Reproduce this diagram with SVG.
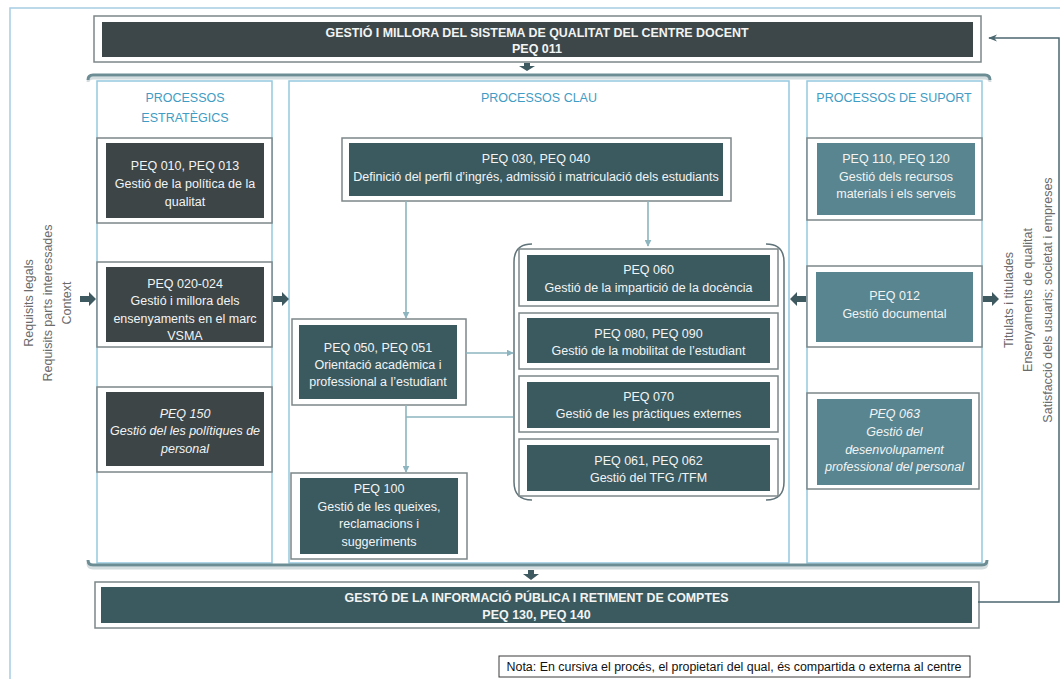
<svg xmlns="http://www.w3.org/2000/svg" width="1060" height="679" viewBox="0 0 1060 679">
<defs>
<style>
text{font-family:"Liberation Sans",Arial,sans-serif;font-size:12.5px;text-anchor:middle}
.w{fill:#f2f4f4}
.b{font-weight:bold}
.i{font-style:italic}
.t{fill:#3f9cc4;font-size:12.5px}
.side{fill:#6b6b6b;font-size:12.5px}
.outer{fill:#fff;stroke:#7c8789;stroke-width:1.5}
.col{fill:#fff;stroke:#95c9e0;stroke-width:1.5}
.st{fill:#3d4547}
.key{fill:#3b5a60}
.sup{fill:#588590}
.conn{fill:none;stroke:#8db5bf;stroke-width:1.6}
.blk{fill:#3e5960}
.brk{fill:none;stroke:#6d8d95;stroke-width:3}
.brks{fill:none;stroke:#d3dcde;stroke-width:3}
.par{fill:none;stroke:#5f7378;stroke-width:1.5}
</style>
<marker id="ah" viewBox="0 0 10 10" refX="9" refY="5" markerWidth="7" markerHeight="7" orient="auto" markerUnits="userSpaceOnUse">
<path d="M0,0 L10,5 L0,10 z" fill="#8db5bf"/>
</marker>
<marker id="ahd" viewBox="0 0 10 10" refX="9" refY="5" markerWidth="9" markerHeight="9" orient="auto" markerUnits="userSpaceOnUse">
<path d="M0,1 L10,5 L0,9 L3,5 z" fill="#4b6870"/>
</marker>
</defs>
<rect width="1060" height="679" fill="#fff"/>
<path d="M10,679 V8 H1060" fill="none" stroke="#a6cde3" stroke-width="1.5"/>

<!-- columns -->
<g id="col-estrategics">
<rect class="col" x="97" y="81" width="175" height="482"/>
<text class="t" x="185" y="101.5">PROCESSOS</text>
<text class="t" x="185" y="121.5">ESTRATÈGICS</text>
</g>
<g id="col-clau">
<rect class="col" x="289" y="81" width="500" height="482"/>
<text class="t" x="539" y="101.5">PROCESSOS CLAU</text>
</g>
<g id="col-suport">
<rect class="col" x="807" y="81" width="175" height="482"/>
<text class="t" x="894" y="101.5">PROCESSOS DE SUPORT</text>
</g>

<!-- brackets -->
<g id="brackets">
<path class="brks" d="M88,82 Q88,78 93,78 H985 Q990,78 990,82"/>
<path class="brk" d="M88,80 Q88,75 93,75 H985 Q990,75 990,80"/>
<path class="brks" d="M88,563 Q88,568 93,568 H982 Q987,568 987,563"/>
<path class="brk" d="M88,560 Q88,565 93,565 H982 Q987,565 987,560"/>
</g>

<!-- top box -->
<g id="peq011">
<rect class="outer" x="94" y="16" width="887" height="46"/>
<rect fill="#3d4749" x="102" y="22" width="871" height="35"/>
<text class="w b" x="537" y="36.5" textLength="423" lengthAdjust="spacingAndGlyphs">GESTIÓ I MILLORA DEL SISTEMA DE QUALITAT DEL CENTRE DOCENT</text>
<text class="w b" x="537" y="52.5">PEQ 011</text>
</g>

<!-- bottom box -->
<g id="peq130">
<rect class="outer" x="95" y="582" width="884" height="46"/>
<rect class="key" x="101" y="587" width="871" height="36"/>
<text class="w b" x="536.5" y="601.5" textLength="384" lengthAdjust="spacingAndGlyphs">GESTÓ DE LA INFORMACIÓ PÚBLICA I RETIMENT DE COMPTES</text>
<text class="w b" x="536.5" y="618.5">PEQ 130, PEQ 140</text>
</g>

<!-- strategic nodes -->
<g id="peq010">
<rect class="outer" x="97" y="138" width="175" height="85"/>
<rect class="st" x="106" y="143" width="158" height="75"/>
<text class="w" x="185" y="169.5">PEQ 010, PEQ 013</text>
<text class="w" x="185" y="187.5">Gestió de la política de la</text>
<text class="w" x="185" y="205.5">qualitat</text>
</g>
<g id="peq020">
<rect class="outer" x="97" y="262" width="175" height="85"/>
<rect class="st" x="106" y="267" width="158" height="75"/>
<text class="w" x="185" y="287.5">PEQ 020-024</text>
<text class="w" x="185" y="305">Gestió i millora dels</text>
<text class="w" x="185" y="322.5">ensenyaments en el marc</text>
<text class="w" x="185" y="339.5">VSMA</text>
</g>
<g id="peq150">
<rect class="outer" x="97" y="387" width="175" height="85"/>
<rect class="st" x="106" y="392" width="158" height="74"/>
<text class="w i" x="185" y="417.5">PEQ 150</text>
<text class="w i" x="185" y="435">Gestió del les polítiques de</text>
<text class="w i" x="185" y="452.5">personal</text>
</g>

<!-- key nodes -->
<g id="peq030">
<rect class="outer" x="342" y="138" width="389" height="63"/>
<rect class="key" x="349" y="143" width="374" height="53"/>
<text class="w" x="536" y="162.5">PEQ 030, PEQ 040</text>
<text class="w" x="536" y="180.5">Definició del perfil d’ingrés, admissió i matriculació dels estudiants</text>
</g>
<g id="peq050">
<rect class="outer" x="292" y="319" width="174" height="86"/>
<rect class="key" x="299" y="325" width="158" height="74"/>
<text class="w" x="378" y="351.5">PEQ 050, PEQ 051</text>
<text class="w" x="378" y="368.5">Orientació acadèmica i</text>
<text class="w" x="378" y="385.5">professional a l’estudiant</text>
</g>
<g id="peq100">
<rect class="outer" x="291" y="473" width="176" height="86"/>
<rect class="key" x="300" y="478" width="158" height="76"/>
<text class="w" x="379" y="492.5">PEQ 100</text>
<text class="w" x="379" y="510.5">Gestió de les queixes,</text>
<text class="w" x="379" y="527.5">reclamacions i</text>
<text class="w" x="379" y="545.5">suggeriments</text>
</g>
<g id="grup-docencia">
<path class="par" d="M532,244 Q514,244 514,262 V482 Q514,500 532,500"/>
<path class="par" d="M766,244 Q784,244 784,262 V482 Q784,500 766,500"/>
</g>
<g id="peq060">
<rect class="outer" x="519" y="249" width="259" height="57"/>
<rect class="key" x="527" y="255" width="243" height="46"/>
<text class="w" x="648.5" y="273.5">PEQ 060</text>
<text class="w" x="648.5" y="291.5">Gestió  de la impartició de la docència</text>
</g>
<g id="peq080">
<rect class="outer" x="519" y="313" width="259" height="56"/>
<rect class="key" x="527" y="318" width="243" height="45"/>
<text class="w" x="648.5" y="337.5">PEQ 080, PEQ 090</text>
<text class="w" x="648.5" y="354.5">Gestió de la mobilitat de l’estudiant</text>
</g>
<g id="peq070">
<rect class="outer" x="519" y="376" width="259" height="56"/>
<rect class="key" x="527" y="382" width="243" height="46"/>
<text class="w" x="648.5" y="400.5">PEQ 070</text>
<text class="w" x="648.5" y="417.5">Gestió de les pràctiques externes</text>
</g>
<g id="peq061">
<rect class="outer" x="519" y="439" width="259" height="57"/>
<rect class="key" x="527" y="445" width="243" height="46"/>
<text class="w" x="648.5" y="464.5">PEQ 061, PEQ 062</text>
<text class="w" x="648.5" y="481.5">Gestió del TFG /TFM</text>
</g>

<!-- support nodes -->
<g id="peq110">
<rect class="outer" x="807" y="138" width="175" height="82"/>
<rect class="sup" x="817" y="143" width="158" height="72"/>
<text class="w" x="896" y="162.5">PEQ 110, PEQ 120</text>
<text class="w" x="896" y="180.5">Gestió dels recursos</text>
<text class="w" x="896" y="197.5">materials i els serveis</text>
</g>
<g id="peq012">
<rect class="outer" x="807" y="266" width="175" height="81"/>
<rect class="sup" x="816" y="272" width="157" height="70"/>
<text class="w" x="894.5" y="299.5">PEQ 012</text>
<text class="w" x="894.5" y="317.5">Gestió documental</text>
</g>
<g id="peq063">
<rect class="outer" x="807" y="393" width="172" height="96"/>
<rect class="sup" x="817" y="399" width="155" height="86"/>
<text class="w i" x="894.5" y="417.5">PEQ 063</text>
<text class="w i" x="894.5" y="436">Gestió del</text>
<text class="w i" x="894.5" y="453.5">desenvolupament</text>
<text class="w i" x="894.5" y="471">professional del personal</text>
</g>

<!-- side labels -->
<g id="entrades">
<text class="side" transform="translate(32.5,303) rotate(-90)">Requisits legals</text>
<text class="side" transform="translate(51.5,303) rotate(-90)">Requisits parts interessades</text>
<text class="side" transform="translate(71,303) rotate(-90)">Context</text>
</g>
<g id="sortides">
<text class="side" transform="translate(1012.5,300) rotate(-90)">Titulats i titulades</text>
<text class="side" transform="translate(1032,300) rotate(-90)">Ensenyaments de qualitat</text>
<text class="side" transform="translate(1051.5,300) rotate(-90)">Satisfacció dels usuaris; societat i empreses</text>
</g>

<!-- connectors -->
<g id="connectors">
<path class="conn" d="M406,201 V318" marker-end="url(#ah)"/>
<path class="conn" d="M648,201 V246" marker-end="url(#ah)"/>
<path class="conn" d="M466,353 H513" marker-end="url(#ah)"/>
<path class="conn" d="M406,405 V472" marker-end="url(#ah)"/>
<path class="conn" d="M406,417 H513"/>
<path d="M978,602 H1059 V38 H989" fill="none" stroke="#4b6870" stroke-width="1.5" marker-end="url(#ahd)"/>
<polygon class="blk" points="80,296 89,296 89,292 96,299 89,306 89,302 80,302"/>
<polygon class="blk" points="273,296 282,296 282,292 289,299 282,306 282,302 273,302"/>
<polygon class="blk" points="806,296 797,296 797,292 790,299 797,306 797,302 806,302"/>
<polygon class="blk" points="983,296 992,296 992,292 999,299 992,306 992,302 983,302"/>
<polygon class="blk" points="524,63 530,63 530,66 535,66 527,71 519,66 524,66"/>
<polygon class="blk" points="528,570 534,570 534,574 539,574 531,580 523,574 528,574"/>
</g>

<!-- note -->
<g id="nota">
<rect x="499" y="656" width="471" height="21" fill="#fff" stroke="#3a3a3a" stroke-width="1"/>
<text x="734" y="670.5" font-size="12" fill="#111" textLength="455" lengthAdjust="spacingAndGlyphs">Nota: En cursiva el procés, el propietari del qual, és compartida o externa al centre</text>
</g>
</svg>
